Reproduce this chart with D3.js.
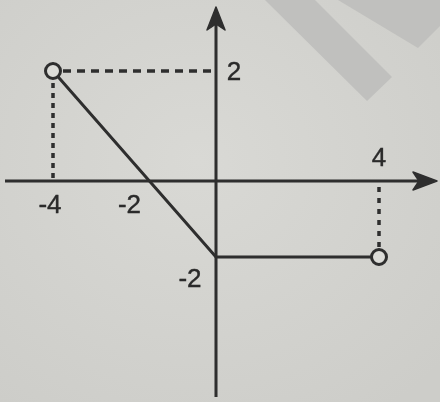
<!DOCTYPE html>
<html>
<head>
<meta charset="UTF-8">
<script src="https://d3js.org/d3.v7.min.js"></script>
<style>
  body { margin: 0; background: #d4d4d0; }
  svg { display: block; }
</style>
</head>
<body>
<script>
// graph of the piecewise function
var lineX = [-4, 0, 4];
var lineY = [2, -2, -2];
// open end points
var openX = [-4, 4];
var openY = [2, -2];
// tick labels
var xTicks = [-4, -2, 4];
var xTickLabels = ["-4", "-2", "4"];
var yTicks = [2, -2];
var yTickLabels = ["2", "-2"];

var W = 440, H = 402;
var ink = "#2e2e2e";

// the photo is slightly skewed, so a three-point scale each way
var x = d3.scaleLinear().domain([-4, 0, 4]).range([53, 216, 379]);
var y = d3.scaleLinear().domain([-2, 0, 2]).range([257, 181, 71]);

var svg = d3.select("body").append("svg").attr("width", W).attr("height", H);

var defs = svg.append("defs");
defs.append("filter").attr("id", "soft")
  .append("feGaussianBlur").attr("stdDeviation", 0.7);
var grad = defs.append("radialGradient").attr("id", "bg").attr("cx", "45%").attr("cy", "40%").attr("r", "75%");
grad.append("stop").attr("offset", "0%").attr("stop-color", "#d9d9d5");
grad.append("stop").attr("offset", "100%").attr("stop-color", "#cdcdc9");

svg.append("rect").attr("width", W).attr("height", H).attr("fill", "url(#bg)");

// watermark bands in the top right
svg.append("polygon").attr("points", "265,0 315,0 392,77 367,101").attr("fill", "#c0c0be");
svg.append("polygon").attr("points", "338,0 440,0 440,26 418,48").attr("fill", "#c0c0be");

var g = svg.append("g").attr("filter", "url(#soft)");

// axes
var x0 = x(0), y0 = y(0);
g.append("line").attr("x1", 5).attr("x2", 430).attr("y1", y0).attr("y2", y0)
  .attr("stroke", ink).attr("stroke-width", 3);
g.append("line").attr("x1", x0).attr("x2", x0).attr("y1", 14).attr("y2", 397)
  .attr("stroke", ink).attr("stroke-width", 3);

// arrow heads
g.append("path")
  .attr("d", "M437," + y0 + " L413," + (y0 - 9) + " L419," + y0 + " L413," + (y0 + 9) + "Z")
  .attr("fill", ink).attr("stroke", ink).attr("stroke-width", 1.5).attr("stroke-linejoin", "round");
g.append("path")
  .attr("d", "M" + x0 + ",7 L" + (x0 - 9) + ",30 L" + x0 + ",24 L" + (x0 + 9) + ",30Z")
  .attr("fill", ink).attr("stroke", ink).attr("stroke-width", 1.5).attr("stroke-linejoin", "round");

// guide lines
g.append("line")
  .attr("x1", x(openX[0]) + 10).attr("x2", x0).attr("y1", y(openY[0])).attr("y2", y(openY[0]))
  .attr("stroke", ink).attr("stroke-width", 3.5).attr("stroke-dasharray", "8,6");
g.append("line")
  .attr("x1", x(openX[0])).attr("x2", x(openX[0])).attr("y1", y(openY[0]) + 12).attr("y2", y0)
  .attr("stroke", ink).attr("stroke-width", 3.5).attr("stroke-dasharray", "5,5");
g.append("line")
  .attr("x1", x(openX[1])).attr("x2", x(openX[1])).attr("y1", y0 + 6).attr("y2", y(openY[1]) - 10)
  .attr("stroke", ink).attr("stroke-width", 3.5).attr("stroke-dasharray", "5,6");

// the graph
var pts = lineX.map(function(d, i) { return [d, lineY[i]]; });
g.append("path")
  .datum(pts)
  .attr("d", d3.line().x(function(d) { return x(d[0]); }).y(function(d) { return y(d[1]); }))
  .attr("fill", "none").attr("stroke", ink).attr("stroke-width", 3);

// open circles
g.selectAll("circle.open")
  .data(openX.map(function(d, i) { return [d, openY[i]]; }))
  .enter().append("circle")
  .attr("class", "open")
  .attr("cx", function(d) { return x(d[0]); })
  .attr("cy", function(d) { return y(d[1]); })
  .attr("r", 7.5)
  .attr("fill", "#dcdcd8").attr("stroke", ink).attr("stroke-width", 3);

// labels
var font = "'Liberation Sans', Arial, sans-serif";
var xOff = { "-4": [-3, 32], "-2": [-5, 32], "4": [0, -15] };
g.selectAll("text.xt")
  .data(xTicks)
  .enter().append("text")
  .attr("class", "xt")
  .attr("x", function(d) { return x(d) + xOff[String(d)][0]; })
  .attr("y", function(d) { return y0 + xOff[String(d)][1]; })
  .attr("text-anchor", "middle")
  .attr("font-family", font).attr("font-size", 26).attr("fill", "#2a2a2a")
  .attr("stroke", "#2a2a2a").attr("stroke-width", 0.4)
  .text(function(d, i) { return xTickLabels[i]; });

var yOff = { "2": [18, 9], "-2": [-26, 30] };
g.selectAll("text.yt")
  .data(yTicks)
  .enter().append("text")
  .attr("class", "yt")
  .attr("x", function(d) { return x0 + yOff[String(d)][0]; })
  .attr("y", function(d) { return y(d) + yOff[String(d)][1]; })
  .attr("text-anchor", "middle")
  .attr("font-family", font).attr("font-size", 26).attr("fill", "#2a2a2a")
  .attr("stroke", "#2a2a2a").attr("stroke-width", 0.4)
  .text(function(d, i) { return yTickLabels[i]; });
</script>
</body>
</html>
